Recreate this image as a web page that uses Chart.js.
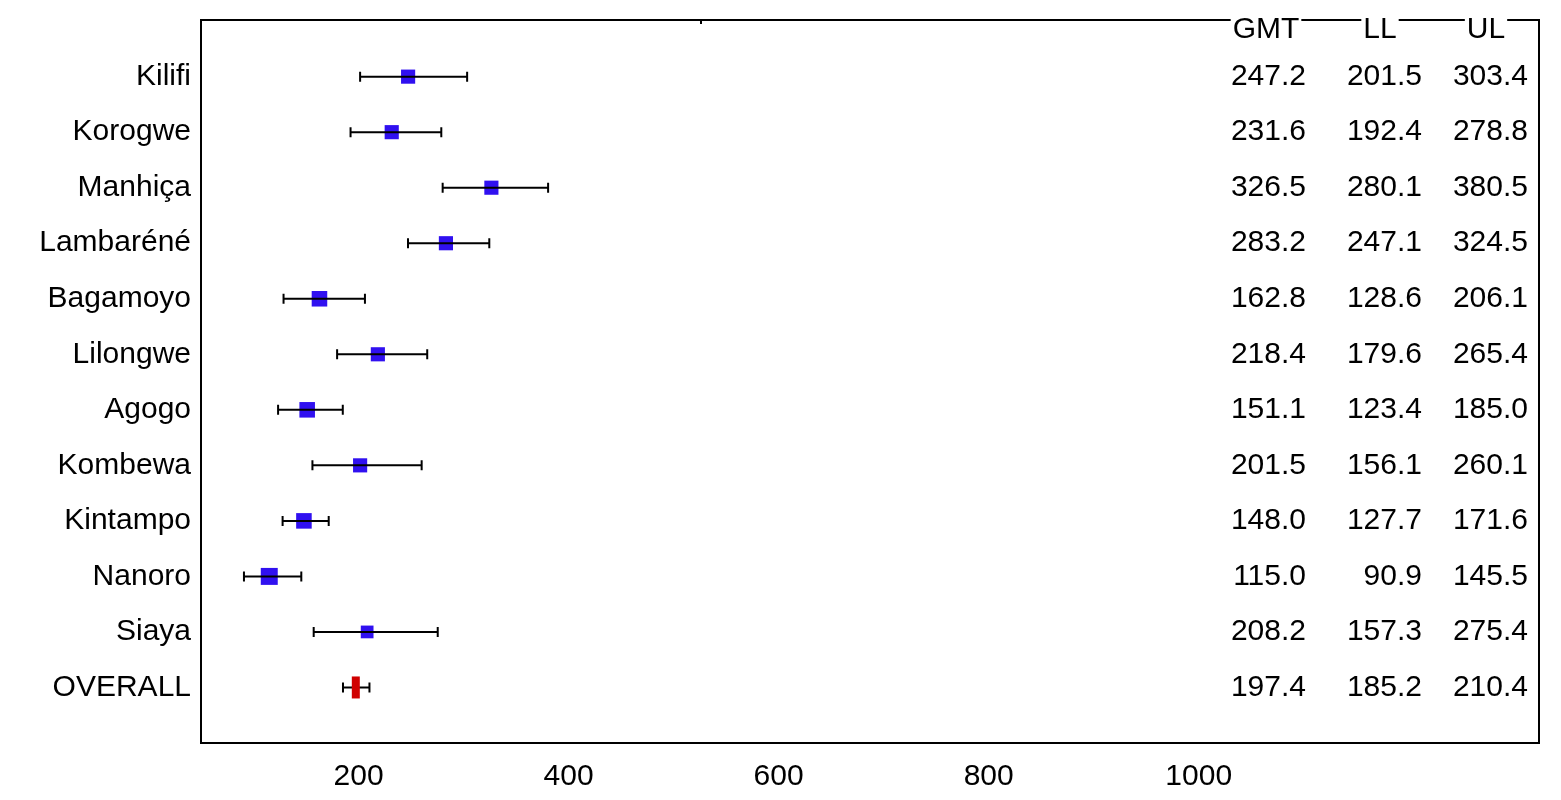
<!DOCTYPE html>
<html><head><meta charset="utf-8">
<script src="https://cdn.jsdelivr.net/npm/chart.js@4/dist/chart.umd.min.js"></script>
<style>body{margin:0;background:#fff}#wrap{width:1561px;height:800px}</style>
</head><body><div id="wrap"><canvas id="c"></canvas></div>
<script>
const sites = ["Kilifi","Korogwe","Manhiça","Lambaréné","Bagamoyo","Lilongwe","Agogo","Kombewa","Kintampo","Nanoro","Siaya","OVERALL"];
const gmt = [247.2,231.6,326.5,283.2,162.8,218.4,151.1,201.5,148.0,115.0,208.2,197.4];
const ll  = [201.5,192.4,280.1,247.1,128.6,179.6,123.4,156.1,127.7,90.9,157.3,185.2];
const ul  = [303.4,278.8,380.5,324.5,206.1,265.4,185.0,260.1,171.6,145.5,275.4,210.4];
const sizes = [10,10,10,10,11,10,11,10,11,12,9,0];
const FONT = "Liberation Sans, Arial, sans-serif";

const forest = {
  id: "forest",
  afterDatasetsDraw(chart) {
    const {ctx, chartArea: a, scales: {x, y}} = chart;
    ctx.save();
    ctx.strokeStyle = "#000"; ctx.lineWidth = 2;
    sites.forEach((s, i) => {
      const py = y.getPixelForValue(i), x1 = x.getPixelForValue(ll[i]), x2 = x.getPixelForValue(ul[i]);
      ctx.beginPath(); ctx.moveTo(x1, py); ctx.lineTo(x2, py);
      ctx.moveTo(x1, py - 5); ctx.lineTo(x1, py + 5);
      ctx.moveTo(x2, py - 5); ctx.lineTo(x2, py + 5); ctx.stroke();
    });
    const oi = sites.length - 1, ox = x.getPixelForValue(gmt[oi]), oy = y.getPixelForValue(oi);
    ctx.fillStyle = "#d00000"; ctx.fillRect(ox - 4, oy - 11, 8, 22);
    ctx.lineWidth = 2;
    ctx.strokeRect(a.left, a.top, a.right - a.left, a.bottom - a.top);
    ctx.beginPath(); ctx.moveTo(701, a.top); ctx.lineTo(701, a.top + 4); ctx.stroke();
    ctx.font = "30px " + FONT; ctx.fillStyle = "#000"; ctx.textBaseline = "middle";
    [[1306, gmt], [1422, ll], [1528, ul]].forEach(([cx, arr]) => {
      ctx.textAlign = "right";
      arr.forEach((v, i) => ctx.fillText(v.toFixed(1), cx, y.getPixelForValue(i)));
    });
    ctx.textAlign = "center";
    [["GMT", 1266], ["LL", 1380], ["UL", 1486]].forEach(([t, cx]) => {
      const w = ctx.measureText(t).width;
      ctx.fillStyle = "#fff"; ctx.fillRect(cx - w / 2 - 2, a.top - 1, w + 4, 4);
      ctx.fillStyle = "#000"; ctx.fillText(t, cx, a.top + 10);
    });
    ctx.restore();
  }
};

new Chart(document.getElementById("c"), {
  type: "scatter",
  data: {
    datasets: [{
      data: sites.slice(0, -1).map((s, i) => ({x: gmt[i], y: i})),
      pointStyle: "rect",
      pointRadius: sizes.slice(0, -1),
      backgroundColor: "#3010f0",
      borderWidth: 0
    }]
  },
  options: {
    responsive: true, maintainAspectRatio: false, animation: false,
    layout: {padding: {top: 7, right: 22, left: 0, bottom: 0}},
    plugins: {legend: {display: false}, tooltip: {enabled: false}},
    scales: {
      x: {
        min: 50, max: 1324,
        grid: {display: false},
        border: {display: false},
        afterFit(s) { s.height = 57; },
        afterBuildTicks(s) { s.ticks = [200, 400, 600, 800, 1000].map(v => ({value: v})); },
        ticks: {color: "#000", font: {size: 30, family: FONT}, padding: 8, callback: v => String(v)}
      },
      y: {
        min: -1.02, max: 12.0, reverse: true,
        grid: {display: false},
        border: {display: false},
        afterFit(s) { s.width = 201; },
        afterBuildTicks(s) { s.ticks = sites.map((_, i) => ({value: i})); },
        ticks: {color: "#000", font: {size: 30, family: FONT}, padding: 2,
          callback: v => sites[v] ?? ""}
      }
    }
  },
  plugins: [forest]
});
</script></body></html>
